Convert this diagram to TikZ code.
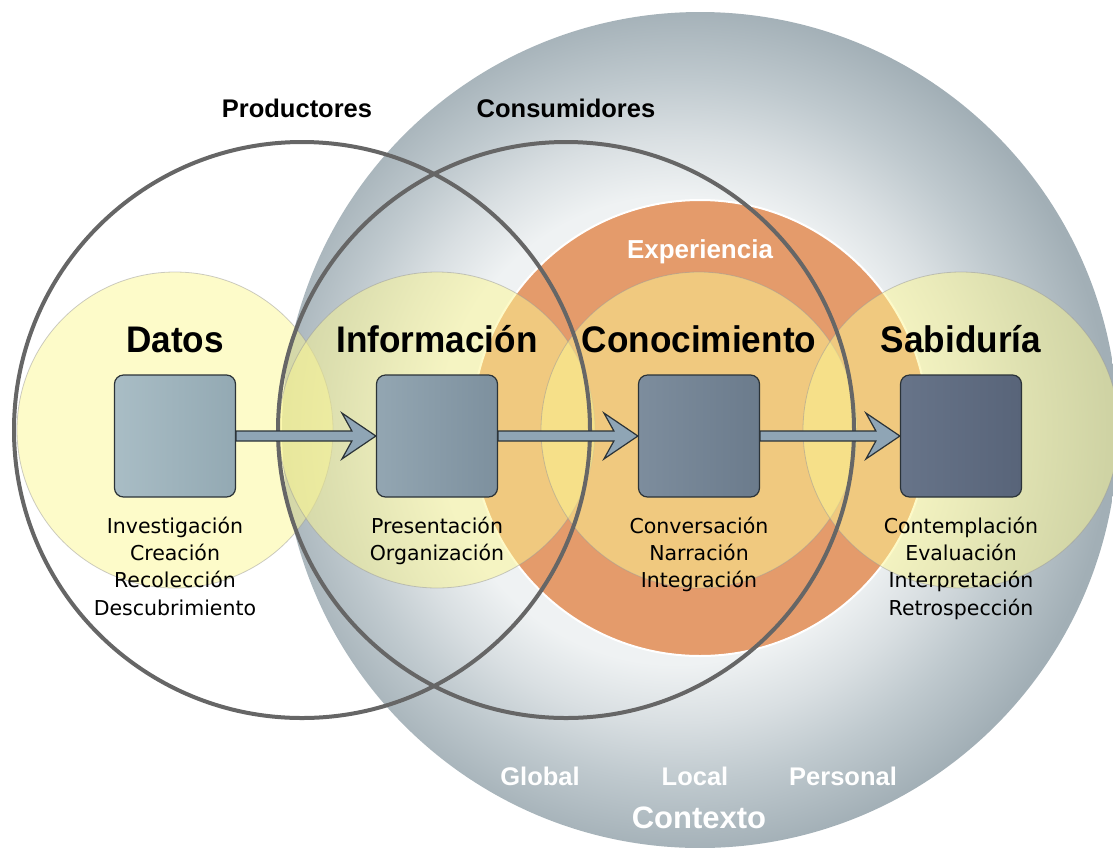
\documentclass[tikz,border=0pt]{standalone}
\usepackage{fontspec}
\setmainfont{Liberation Sans}
\newfontfamily\headfont[FakeStretch=0.95]{Liberation Sans}
\newfontfamily\bodyfont{DejaVu Sans}
\usetikzlibrary{positioning}

\definecolor{rimgrey}{HTML}{A2AFB6}
\definecolor{outgrey}{HTML}{BFC9CE}
\definecolor{midgrey}{HTML}{D9DFE2}
\definecolor{glowgrey}{HTML}{EFF2F3}
\definecolor{expor}{HTML}{E49B6B}
\definecolor{paleyel}{HTML}{FCF793}
\definecolor{ringline}{HTML}{666666}
\definecolor{arrowblue}{HTML}{8FA5B5}
\definecolor{edgedark}{HTML}{2B3338}
\definecolor{datosL}{HTML}{A9BDC5}
\definecolor{datosR}{HTML}{93A9B3}
\definecolor{infoL}{HTML}{93A6B2}
\definecolor{infoR}{HTML}{7D909E}
\definecolor{conocL}{HTML}{7D8D9D}
\definecolor{conocR}{HTML}{6B7B8C}
\definecolor{sabidL}{HTML}{677489}
\definecolor{sabidR}{HTML}{586479}
\pgfdeclareradialshading{contextshade}{\pgfpoint{-2bp}{0bp}}{%
  color(0bp)=(glowgrey); color(14bp)=(glowgrey);
  color(17.5bp)=(midgrey); color(21bp)=(outgrey);
  color(25.5bp)=(rimgrey); color(50bp)=(rimgrey)}

\begin{document}
\begin{tikzpicture}[
    x=1pt, y=-1pt,
    stage/.style={
		rectangle,
		rounded corners=9pt,
		draw=edgedark,
		line width=1.2pt,
		minimum width=121pt,
		minimum height=122pt,
		inner sep=0pt
	},
	head/.style={
		font=\headfont\bfseries\fontsize{37}{40}\selectfont
	},
	role/.style={
		font=\bfseries\fontsize{25.5}{28}\selectfont
	},
	ctx/.style={
		font=\bfseries\fontsize{25.5}{28}\selectfont,
		text=white
	},
	acts/.style={
		font=\bodyfont\fontsize{20.5}{27.3}\selectfont,
		align=center,
		inner sep=0pt
	},
	yel/.style={
		fill=paleyel, fill opacity=0.5,
		draw=black!40, draw opacity=0.5, line width=0.8pt
	},
	ring/.style={
		draw=ringline, line width=4pt
	},
	flow/.style={
		fill=arrowblue, draw=edgedark, line width=1.2pt, line join=miter
	}
  ]
  \useasboundingbox (0,0) rectangle (1113,847);

  % context, experience and the four stage circles
  \shade[shading=contextshade] (700,430) circle (418);
  \filldraw[fill=expor, draw=white, line width=2pt] (700,428) circle (228);
  \foreach \cx in {175,437,699,961}
    \filldraw[yel] (\cx,430) circle (158);

  % producers and consumers
  \draw[ring] (302,430) circle (288);
  \draw[ring] (566,430) circle (288);

  % the blocks
  \node[stage, left color=datosL, right color=datosR] (datos) at (175,436) {};
  \node[stage, left color=infoL, right color=infoR] (info) at (437,436) {};
  \node[stage, left color=conocL, right color=conocR] (conoc) at (699,436) {};
  \node[stage, left color=sabidL, right color=sabidR] (sabid) at (961,436) {};

  \foreach \a/\b in {datos/info, info/conoc, conoc/sabid}
    \draw[flow] ([yshift=-5pt]\a.east) -- ([shift={(-24,5)}]\b.west)
      -- ([shift={(-34,23)}]\b.west) -- (\b.west)
      -- ([shift={(-34,-23)}]\b.west) -- ([shift={(-24,-5)}]\b.west)
      -- ([yshift=5pt]\a.east) -- cycle;

  \node[head, above=22pt of datos.north, anchor=base] {Datos};
  \node[head, above=22pt of info.north, anchor=base] {Información};
  \node[head, above=22pt of conoc.north, anchor=base] {Conocimiento};
  \node[head, above=22pt of sabid.north, anchor=base] {Sabiduría};

  \node[acts, below=19pt of datos, anchor=north] {Investigación\\Creación\\Recolección\\Descubrimiento};
  \node[acts, below=19pt of info, anchor=north] {Presentación\\Organización};
  \node[acts, below=19pt of conoc, anchor=north] {Conversación\\Narración\\Integración};
  \node[acts, below=19pt of sabid, anchor=north] {Contemplación\\Evaluación\\Interpretación\\Retrospección};

  \node[role] (prod) at (297,108) {Productores};
  \node[role] (cons) at (566,108) {Consumidores};
  \node[ctx, font=\bfseries\fontsize{26}{28}\selectfont] (exp) at (700,252) {Experiencia};
  \node[ctx] (glob) at (540,776) {Global};
  \node[ctx] (loc) at (695,776) {Local};
  \node[ctx] (pers) at (843,776) {Personal};
  \node[ctx, font=\bfseries\fontsize{31}{34}\selectfont] (cont) at (699,818) {Contexto};
\end{tikzpicture}
\end{document}
